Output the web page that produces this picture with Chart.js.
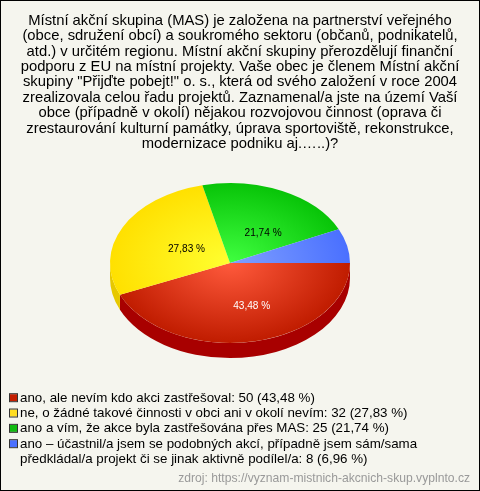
<!DOCTYPE html>
<html>
<head>
<meta charset="utf-8">
<title>MAS</title>
<script src="https://cdn.jsdelivr.net/npm/chart.js@4"></script>
<style>
html,body{margin:0;padding:0;background:#f5f5ee;}
canvas{display:block;background:#f5f5ee;outline:1px solid #000;outline-offset:-1px;}
</style>
</head>
<body>
<canvas id="pieChart" width="480" height="491"></canvas>
<script>
'use strict';
const titleLines=[
  'Místní akční skupina (MAS) je založena na partnerství veřejného',
  '(obce, sdružení obcí) a soukromého sektoru (občanů, podnikatelů,',
  'atd.) v určitém regionu. Místní akční skupiny přerozdělují finanční',
  'podporu z EU na místní projekty. Vaše obec je členem Místní akční',
  'skupiny "Přijďte pobejt!" o. s., která od svého založení v roce 2004',
  'zrealizovala celou řadu projektů. Zaznamenal/a jste na území Vaší',
  'obce (případně v okolí) nějakou rozvojovou činnost (oprava či',
  'zrestaurování kulturní památky, úprava sportoviště, rekonstrukce,',
  'modernizace podniku aj.…..)?'
];
const categories=[
  ['ano, ale nevím kdo akci zastřešoval'],
  ['ne, o žádné takové činnosti v obci ani v okolí nevím'],
  ['ano a vím, že akce byla zastřešována přes MAS'],
  ['ano – účastnil/a jsem se podobných akcí, případně jsem sám/sama','předkládal/a projekt či se jinak aktivně podílel/a']
];
const counts=[50,32,25,8];
const percents=['43,48','27,83','21,74','6,96'];
const sourceText='zdroj: https://vyznam-mistnich-akcnich-skup.vyplnto.cz';

const legendColors=['#c41e00','#ffdd22','#11bb11','#4a70ff'];
const innerColors=['#ff5a3c','#ffff30','#40ff40','#80a0ff'];
const outerColors=['#c01c00','#ffe000','#08c408','#4a70ff'];
const sideColors=['#a80000','#e6c800','#089008','#3050c0'];
const labelColors=['#fff','#000','#000',null];
// small shifts so the labels sit like in the original
const labelShift=[[10,6],[8,3],[8,5],[0,0]];

const pieX=230;
const pieY=263;
const squash=80/120;
const depth=15;

function sliceGradient(ctx){
  let chart=ctx.chart;
  if(!chart.chartArea){
    return legendColors[ctx.dataIndex];
  }
  let cx=(chart.chartArea.left+chart.chartArea.right)/2;
  let cy=(chart.chartArea.top+chart.chartArea.bottom)/2;
  let g=chart.ctx.createRadialGradient(cx,cy,0,cx,cy,120);
  g.addColorStop(0,innerColors[ctx.dataIndex]);
  g.addColorStop(1,outerColors[ctx.dataIndex]);
  return g;
}

// chart.js only does round pies, so squash it and draw the rim by hand
const tiltPlugin={
  id:'tilt',
  beforeDatasetsDraw(chart){
    let c=chart.ctx;
    let arcs=chart.getDatasetMeta(0).data;
    c.save();
    c.translate(pieX,pieY);
    c.scale(1,squash);
    arcs.forEach(function(arc,i){
      let a=Math.max(arc.startAngle,0);
      let b=Math.min(arc.endAngle,Math.PI);
      if(b<=a){
        return;
      }
      let r=arc.outerRadius;
      let d=depth/squash;
      c.beginPath();
      c.arc(0,d,r,a,b);
      c.arc(0,0,r,b,a,true);
      c.closePath();
      c.fillStyle=sideColors[i];
      c.fill();
    });
    c.translate(-arcs[0].x,-arcs[0].y);
  },
  afterDatasetsDraw(chart){
    let c=chart.ctx;
    c.restore();
    let arcs=chart.getDatasetMeta(0).data;
    c.save();
    c.font='10.1px "Liberation Sans"';
    c.textAlign='center';
    c.textBaseline='middle';
    arcs.forEach(function(arc,i){
      if(!labelColors[i]){
        return;
      }
      let mid=(arc.startAngle+arc.endAngle)/2;
      let r=arc.outerRadius*0.48;
      c.fillStyle=labelColors[i];
      c.fillText(percents[i]+' %',pieX+Math.cos(mid)*r+labelShift[i][0],pieY+Math.sin(mid)*r*squash+labelShift[i][1]);
    });
    c.restore();
  }
};

// legend gap between box and text is fixed in chart.js, so the boxes are drawn here
const swatchPlugin={
  id:'swatches',
  afterDraw(chart){
    let c=chart.ctx;
    let items=chart.legend.legendItems;
    chart.legend.legendHitBoxes.forEach(function(box,i){
      let color=items[i].swatch;
      if(!color){
        return;
      }
      c.fillStyle=color;
      c.fillRect(box.left,box.top+4,7,7);
      c.strokeStyle='#333';
      c.lineWidth=1;
      c.strokeRect(box.left-0.5,box.top+3.5,8,8);
    });
  }
};

function legendItems(){
  let items=[];
  categories.forEach(function(cat,i){
    cat.forEach(function(line,j){
      let text=line;
      if(j===cat.length-1){
        text+=': '+counts[i]+' ('+percents[i]+' %)';
      }
      items.push({
        text:text,
        fillStyle:'transparent',
        strokeStyle:'transparent',
        lineWidth:0,
        fontColor:'#000',
        swatch:j===0?legendColors[i]:null
      });
    });
  });
  return items;
}

new Chart(document.getElementById('pieChart'),{
  type:'pie',
  data:{
    labels:categories.map(function(c){return c.join(' ');}),
    datasets:[{
      data:counts,
      backgroundColor:sliceGradient,
      borderWidth:0,
      radius:120
    }]
  },
  plugins:[tiltPlugin,swatchPlugin],
  options:{
    responsive:false,
    animation:false,
    rotation:90,
    layout:{padding:{left:10,right:10,top:0,bottom:4.6}},
    plugins:{
      tooltip:{enabled:false},
      title:{
        display:true,
        text:titleLines,
        color:'#000',
        font:{family:'"Liberation Sans"',size:14.8,weight:'normal',lineHeight:1.04},
        padding:{top:13,bottom:0}
      },
      legend:{
        position:'bottom',
        align:'start',
        labels:{
          font:{family:'"Liberation Sans"',size:13.33},
          color:'#000',
          boxWidth:3.33,
          boxHeight:15.33,
          padding:0,
          generateLabels:legendItems
        }
      },
      subtitle:{
        display:true,
        text:sourceText,
        position:'bottom',
        align:'end',
        color:'#999',
        font:{family:'"Liberation Sans"',size:12.13,weight:'normal'},
        // the legend box always reserves 10px extra at its bottom
        padding:{top:-5,bottom:0}
      }
    }
  }
});
</script>
</body>
</html>
